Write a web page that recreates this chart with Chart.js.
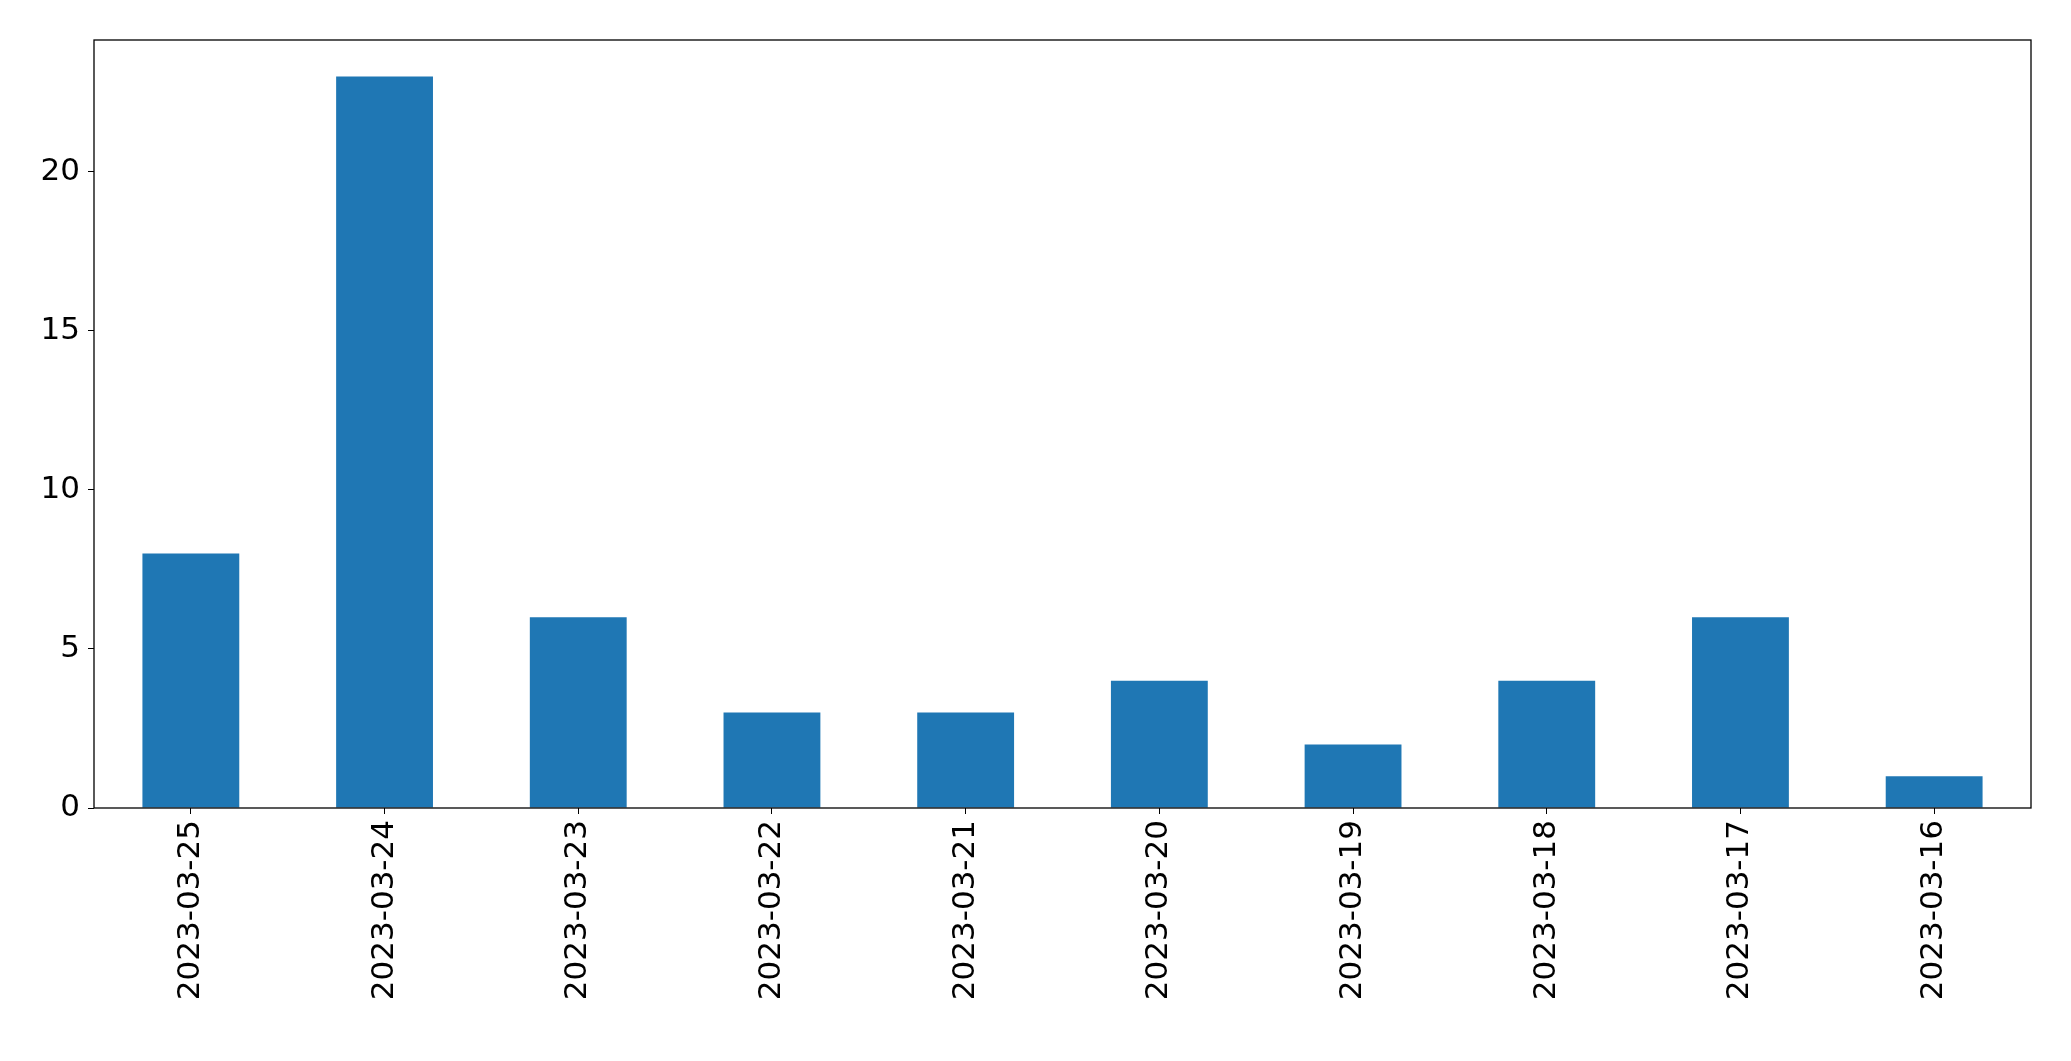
<!DOCTYPE html>
<html>
<head>
<meta charset="utf-8">
<script src="https://cdn.jsdelivr.net/npm/chart.js@4"></script>
<style>
  body { margin: 0; background: #fff; }
  #wrap { width: 2071px; height: 1061px; }
</style>
</head>
<body>
<div id="wrap"><canvas id="bar_chart"></canvas></div>
<script>
// dates along x, counts per day
var dateLabels = ['2023-03-25', '2023-03-24', '2023-03-23', '2023-03-22', '2023-03-21',
                  '2023-03-20', '2023-03-19', '2023-03-18', '2023-03-17', '2023-03-16'];
var counts = [8, 23, 6, 3, 3, 4, 2, 4, 6, 1];
var yTicks = [0, 5, 10, 15, 20];

// draw the black frame around the plot area, like matplotlib's spines
var frame = {
    id: 'frame',
    afterDraw: function (chart) {
        var a = chart.chartArea, c = chart.ctx;
        c.save();
        c.strokeStyle = '#000';
        c.lineWidth = 1.3;
        c.strokeRect(a.left, a.top, a.right - a.left, a.bottom - a.top);
        c.restore();
    }
};

var ctx = document.getElementById('bar_chart').getContext('2d');
new Chart(ctx, {
    type: 'bar',
    data: {
        labels: dateLabels,
        datasets: [{
            data: counts,
            backgroundColor: '#1f77b4',
            barPercentage: 0.5,
            categoryPercentage: 1.0
        }]
    },
    options: {
        responsive: true,
        maintainAspectRatio: false,
        animation: false,
        layout: { padding: { top: 40, right: 40 } },
        plugins: { legend: { display: false }, tooltip: { enabled: false } },
        scales: {
            x: {
                offset: true,
                grid: { drawOnChartArea: false, drawTicks: true, tickLength: 6, color: '#000', offset: false },
                border: { display: false },
                afterFit: function (s) { s.height = 253; },
                ticks: {
                    color: '#000', minRotation: 90, maxRotation: 90, padding: 6,
                    font: { family: 'DejaVu Sans', size: 31 }
                }
            },
            y: {
                min: 0, max: 24.15,
                grid: { drawOnChartArea: false, drawTicks: true, tickLength: 6, color: '#000' },
                border: { display: false },
                afterFit: function (s) { s.width = 94; },
                afterBuildTicks: function (s) { s.ticks = yTicks.map(function (v) { return { value: v }; }); },
                ticks: {
                    color: '#000', padding: 8,
                    font: { family: 'DejaVu Sans', size: 31 }
                }
            }
        }
    },
    plugins: [frame]
});
</script>
</body>
</html>
